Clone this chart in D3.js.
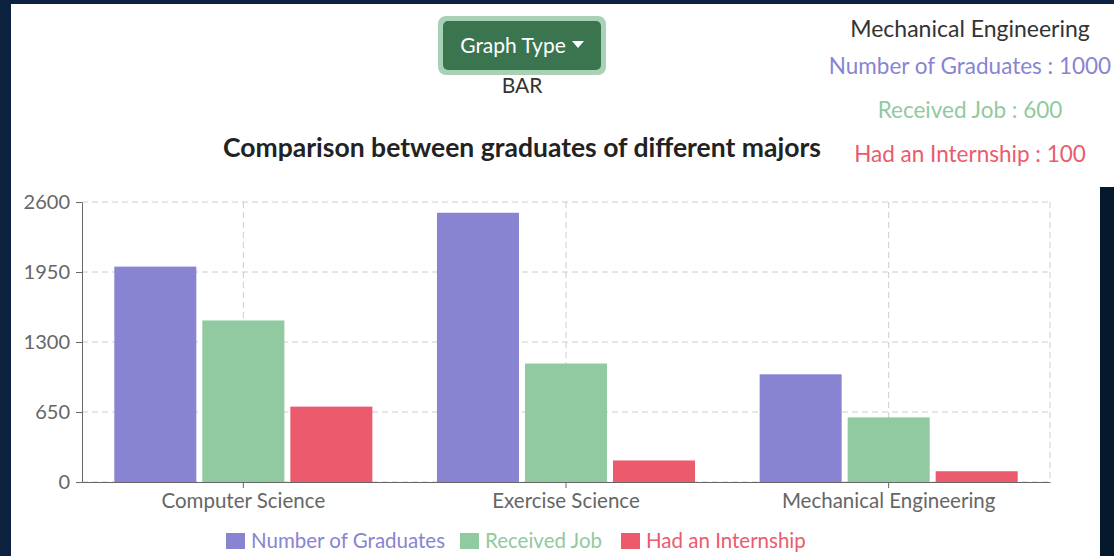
<!DOCTYPE html>
<html>
<head>
<meta charset="utf-8">
<script src="https://cdn.jsdelivr.net/npm/d3@7/dist/d3.min.js"></script>
<style>
  html, body { margin: 0; padding: 0; background: #0b2340; }
  svg { display: block; font-family: Lato, "Open Sans", sans-serif; }
</style>
</head>
<body>
<svg id="chart" width="1114" height="556"></svg>
<script>
const categories = ["Computer Science", "Exercise Science", "Mechanical Engineering"];
const seriesNames = ["Number of Graduates", "Received Job", "Had an Internship"];
const graduates = [2000, 2500, 1000];
const receivedJob = [1500, 1100, 600];
const internship = [700, 200, 100];
const yTicks = [0, 650, 1300, 1950, 2600];
const colors = ["#8884d2", "#91c9a0", "#eb5a6d"];
const selected = 2; // Mechanical Engineering shown in info panel
const graphType = "BAR";

const seriesValues = [graduates, receivedJob, internship];

const svg = d3.select("#chart");

// page backgrounds
svg.append("rect").attr("x", 0).attr("y", 0).attr("width", 1114).attr("height", 556).attr("fill", "#0b2340");
svg.append("rect").attr("x", 1100).attr("y", 187).attr("width", 14).attr("height", 369).attr("fill", "#06182b");
svg.append("rect").attr("x", 11).attr("y", 4).attr("width", 1089).attr("height", 552).attr("fill", "#fff");
svg.append("rect").attr("x", 820).attr("y", 4).attr("width", 294).attr("height", 183).attr("fill", "#fff");

// button
svg.append("rect").attr("x", 438).attr("y", 16).attr("width", 168).attr("height", 59).attr("rx", 8).attr("fill", "#a9d1b6");
svg.append("rect").attr("x", 443).attr("y", 21).attr("width", 158).attr("height", 49).attr("rx", 5).attr("fill", "#3a7550");
svg.append("text").attr("x", 513).attr("y", 53).attr("text-anchor", "middle").attr("fill", "#fff")
  .style("font-size", "21px").text("Graph Type");
svg.append("path").attr("d", "M572,41 L584,41 L578,48 Z").attr("fill", "#fff");
svg.append("text").attr("x", 522).attr("y", 93).attr("text-anchor", "middle").attr("fill", "#333")
  .style("font-size", "21px").text(graphType);

// title
svg.append("text").attr("x", 522).attr("y", 157).attr("text-anchor", "middle").attr("fill", "#222")
  .style("font-size", "26.5px").style("font-weight", "bold").text("Comparison between graduates of different majors");

// info panel
const infoX = 970;
svg.append("text").attr("x", infoX).attr("y", 37).attr("text-anchor", "middle").attr("fill", "#333")
  .style("font-size", "23px").text(categories[selected]);
seriesNames.forEach((s, i) => {
  svg.append("text").attr("x", infoX).attr("y", 74 + i * 44).attr("text-anchor", "middle").attr("fill", colors[i])
    .style("font-size", "22.5px").text(s + " : " + seriesValues[i][selected]);
});

// chart
const plotLeft = 82, plotRight = 1050, plotTop = 202, plotBottom = 482;
const x0 = d3.scaleBand().domain(categories).range([plotLeft, plotRight]).padding(0);
const x1 = d3.scaleBand().domain(seriesNames).range([0, x0.bandwidth()]).paddingInner(0.068).paddingOuter(0.367);
const y = d3.scaleLinear().domain([0, 2600]).range([plotBottom, plotTop]);

const grid = svg.append("g").attr("stroke", "#ccc").attr("stroke-dasharray", "6 4").attr("fill", "none");
yTicks.forEach(t => {
  grid.append("line").attr("x1", plotLeft).attr("x2", plotRight).attr("y1", y(t)).attr("y2", y(t));
});
categories.forEach(c => {
  const cx = x0(c) + x0.bandwidth() / 2;
  grid.append("line").attr("x1", cx).attr("x2", cx).attr("y1", plotTop).attr("y2", plotBottom);
});
grid.append("line").attr("x1", plotRight).attr("x2", plotRight).attr("y1", plotTop).attr("y2", plotBottom);

const groups = svg.append("g").selectAll("g").data(categories).join("g")
  .attr("transform", c => `translate(${x0(c)},0)`);
groups.selectAll("rect").data((c, ci) => seriesNames.map((s, si) => ({ s, si, v: seriesValues[si][ci] })))
  .join("rect")
  .attr("x", d => x1(d.s))
  .attr("width", x1.bandwidth())
  .attr("y", d => y(d.v))
  .attr("height", d => plotBottom - y(d.v))
  .attr("fill", d => colors[d.si]);

const yAxis = svg.append("g").attr("transform", `translate(${plotLeft},0)`)
  .call(d3.axisLeft(y).tickValues(yTicks).tickFormat(d3.format("d")).tickSize(6).tickSizeOuter(0).tickPadding(6));
const xAxis = svg.append("g").attr("transform", `translate(0,${plotBottom})`)
  .call(d3.axisBottom(x0).tickSize(6).tickSizeOuter(0).tickPadding(5));
[yAxis, xAxis].forEach(a => {
  a.select(".domain").attr("stroke", "#666");
  a.selectAll(".tick line").attr("stroke", "#666");
  a.selectAll(".tick text").attr("fill", "#666").style("font-family", "Lato, sans-serif");
});
yAxis.selectAll(".tick text").style("font-size", "20px");
xAxis.selectAll(".tick text").style("font-size", "20.5px");

// legend
const legendStarts = [226, 460, 621];
seriesNames.forEach((s, i) => {
  svg.append("rect").attr("x", legendStarts[i]).attr("y", 533).attr("width", 19).attr("height", 16).attr("fill", colors[i]);
  svg.append("text").attr("x", legendStarts[i] + 25).attr("y", 548).attr("fill", colors[i])
    .style("font-size", "20.5px").text(s);
});
</script>
</body>
</html>
